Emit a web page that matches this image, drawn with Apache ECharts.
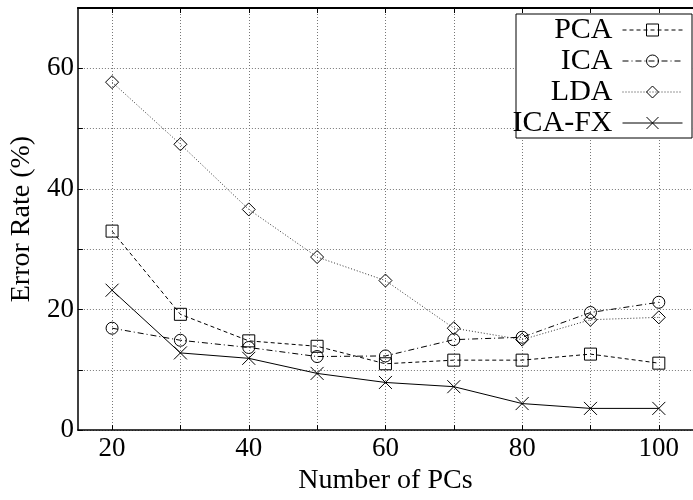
<!DOCTYPE html>
<html>
<head>
<meta charset="utf-8">
<script src="https://cdn.jsdelivr.net/npm/echarts@6/dist/echarts.min.js"></script>
<style>
  html, body { margin: 0; padding: 0; background: #fff; }
  #chart { width: 693px; height: 500px; }
</style>
</head>
<body>
<div id="chart"></div>
<script>
// Number of principal components on the x axis
const pcs = [20, 30, 40, 50, 60, 70, 80, 90, 100];

// Error rate (%) for each method
const pca   = [33.0, 19.2, 14.8, 13.9, 11.0, 11.6, 11.6, 12.6, 11.1];
const ica   = [16.9, 14.9, 13.7, 12.2, 12.3, 15.0, 15.4, 19.5, 21.2];
const lda   = [57.7, 47.4, 36.6, 28.7, 24.8, 16.9, 15.0, 18.3, 18.7];
const icafx = [23.2, 12.8, 11.9, 9.4, 7.9, 7.2, 4.4, 3.6, 3.6];

// Tick positions and labelled ticks
const xTicks  = [20, 30, 40, 50, 60, 70, 80, 90, 100];
const xLabels = [20, 40, 60, 80, 100];
const yLabels = [0, 20, 40, 60];

const FONT = '"Liberation Serif", "DejaVu Serif", serif';
const gridLine = { show: true, lineStyle: { color: '#777', width: 1, type: [1, 2] } };

const pairs = vals => pcs.map((x, i) => [x, vals[i]]);
const markerStyle = { color: 'transparent', borderColor: '#000', borderWidth: 1 };

function makeSeries(name, vals, symbol, size, dash, color) {
  return {
    name, type: 'line', data: pairs(vals),
    symbol, symbolSize: size,
    itemStyle: markerStyle,
    lineStyle: { color: color, width: 1, type: dash },
    emphasis: { disabled: true },
    z: 2
  };
}

const chart = echarts.init(document.getElementById('chart'), null, { renderer: 'canvas' });
chart.setOption({
  animation: false,
  backgroundColor: '#fff',
  grid: { left: 69, top: 8, width: 630, height: 437 },
  xAxis: [{
    type: 'value', min: 15, max: 105, position: 'bottom',
    name: 'Number of PCs', nameLocation: 'middle', nameGap: 22,
    nameTextStyle: { fontFamily: FONT, fontSize: 28, color: '#000' },
    axisLine: { show: true, onZero: false, lineStyle: { color: '#000', width: 1.5 } },
    axisTick: { show: true, inside: true, length: 5, customValues: xTicks, lineStyle: { color: '#000' } },
    axisLabel: { customValues: xLabels, fontFamily: FONT, fontSize: 27, color: '#000', margin: 5 },
    splitLine: gridLine
  }, {
    type: 'value', min: 15, max: 105, position: 'top',
    axisLine: { show: true, onZero: false, lineStyle: { color: '#000', width: 2 } },
    axisTick: { show: true, inside: true, length: 5, customValues: xTicks, lineStyle: { color: '#000' } },
    axisLabel: { show: false },
    splitLine: { show: false }
  }],
  yAxis: {
    type: 'value', min: 0, max: 70, interval: 10,
    name: 'Error Rate (%)', nameLocation: 'middle', nameGap: 31, nameRotate: 90,
    nameTextStyle: { fontFamily: FONT, fontSize: 28, color: '#000' },
    axisLine: { show: true, onZero: false, lineStyle: { color: '#000', width: 1.5 } },
    axisTick: { show: true, inside: true, length: 5, lineStyle: { color: '#000' } },
    axisLabel: {
      fontFamily: FONT, fontSize: 27, color: '#000', margin: 4,
      formatter: v => (yLabels.includes(v) ? String(v) : '')
    },
    splitLine: gridLine
  },
  graphic: [{
    type: 'rect', z: 3,
    shape: { x: 516, y: 14, width: 176, height: 124 },
    style: { fill: '#fff', stroke: '#000', lineWidth: 1 }
  }],
  legend: {
    orient: 'vertical', align: 'right',
    right: 10, top: 15, padding: 0,
    itemWidth: 60, itemHeight: 15, itemGap: 1,
    z: 5,
    textStyle: { fontFamily: FONT, fontSize: 30, color: '#000', padding: [0, 5, 0, 0] },
    itemStyle: { color: 'transparent', borderColor: '#000', borderWidth: 1 },
    lineStyle: { width: 1 },
    data: ['PCA', 'ICA', 'LDA', 'ICA-FX']
  },
  series: [
    makeSeries('PCA', pca, 'rect', 12, [4, 3], '#000'),
    makeSeries('ICA', ica, 'circle', 12, [6, 3, 1, 3], '#000'),
    makeSeries('LDA', lda, 'diamond', 13, [1, 2], '#333'),
    makeSeries('ICA-FX', icafx, 'path://M0,0L10,10M10,0L0,10', 13, 'solid', '#000')
  ]
});
</script>
</body>
</html>
